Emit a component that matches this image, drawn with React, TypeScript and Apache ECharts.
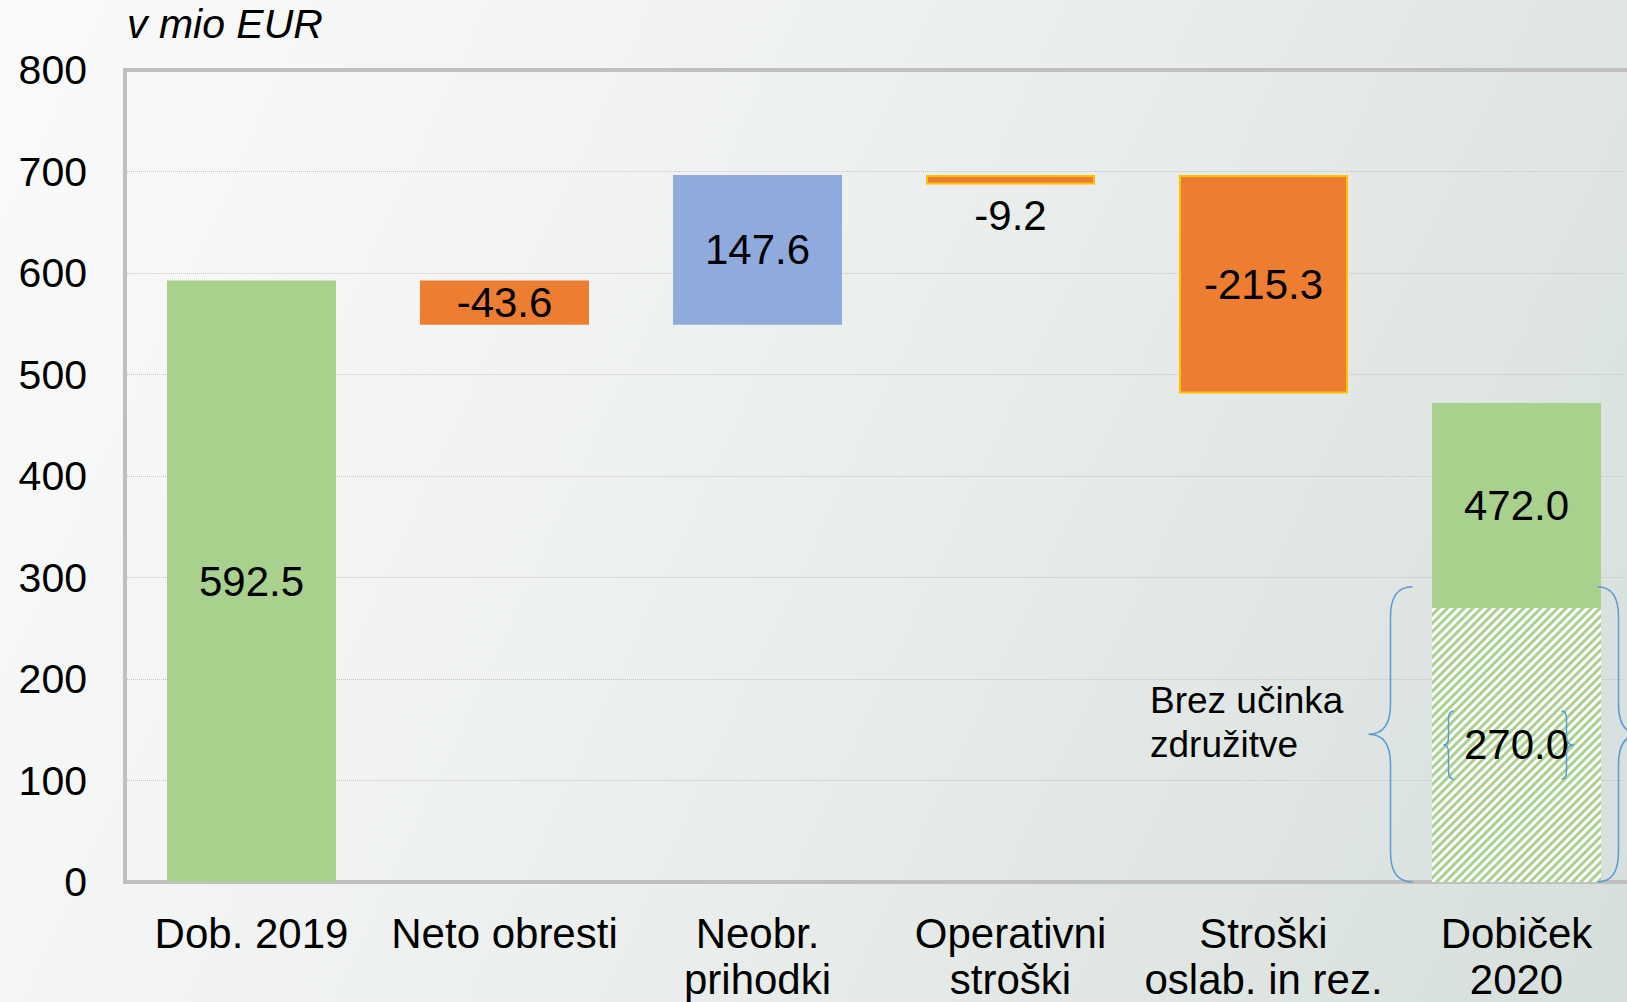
import React, { useEffect, useRef } from "react";
import * as echarts from "echarts";

const categories = [
  "Dob. 2019",
  "Neto obresti",
  "Neobr.\nprihodki",
  "Operativni\nstroški",
  "Stroški\noslab. in rez.",
  "Dobiček\n2020",
];
// change shown on each bar
const changes = [592.5, -43.6, 147.6, -9.2, -215.3, 472.0];
// level at the top edge of each bar, as drawn in the picture
const barTops = [592.5, 592.5, 696.5, 696.5, 696.5, 472.0];
const isTotal = [true, false, false, false, false, true];
const withoutMergerEffect = 270.0;
const yMin = 0;
const yMax = 800;
const yStep = 100;
const unitLabel = "v mio EUR";
const noteLabel = "Brez učinka\nzdružitve";

const outlined = [false, false, false, true, true, false];

const FONT = "'Liberation Sans', Arial, sans-serif";
const GREEN = "#a9d18e";
const ORANGE = "#ed7d31";
const BLUE = "#8faadc";
const BRACE = "#5b9bd5";

let braceRegistered = false;
function registerBrace() {
  if (braceRegistered) return;
  braceRegistered = true;
  const Brace = (echarts.graphic as any).extendShape({
    type: "brace",
    shape: { xv: 0, y1: 0, y2: 0, tip: 0, end: 0, r: 10 },
    buildPath(ctx: any, s: any) {
      const ym = (s.y1 + s.y2) / 2;
      ctx.moveTo(s.end, s.y1);
      ctx.quadraticCurveTo(s.xv, s.y1, s.xv, s.y1 + s.r);
      ctx.lineTo(s.xv, ym - s.r);
      ctx.quadraticCurveTo(s.xv, ym, s.tip, ym);
      ctx.moveTo(s.tip, ym);
      ctx.quadraticCurveTo(s.xv, ym, s.xv, ym + s.r);
      ctx.lineTo(s.xv, s.y2 - s.r);
      ctx.quadraticCurveTo(s.xv, s.y2, s.end, s.y2);
    },
  });
  (echarts.graphic as any).registerShape("brace", Brace);
}

function buildSeriesData() {
  const base: number[] = [];
  const hatched: number[] = [];
  const solid: number[] = [];
  const last = changes.length - 1;
  changes.forEach((c, i) => {
    const h = Math.abs(c);
    const b = +(barTops[i] - h).toFixed(1);
    if (i === last) {
      base.push(b);
      hatched.push(withoutMergerEffect);
      solid.push(+(h - withoutMergerEffect).toFixed(1));
    } else {
      base.push(b);
      hatched.push(0);
      solid.push(h);
    }
  });
  return { base, hatched, solid };
}

export default function App() {
  const ref = useRef<HTMLDivElement>(null);
  useEffect(() => {
    if (!ref.current) return;
    registerBrace();
    const chart = echarts.init(ref.current, null, { renderer: "svg" });
    const { base, hatched, solid } = buildSeriesData();
    const last = changes.length - 1;

    const solidData = solid.map((v, i) => {
      const color = isTotal[i] ? GREEN : changes[i] < 0 ? ORANGE : BLUE;
      const small = Math.abs(changes[i]) < 20;
      return {
        value: v,
        itemStyle: {
          color,
          borderColor: outlined[i] ? "#ffc000" : color,
          borderWidth: outlined[i] ? 2 : 0,
        },
        label: {
          show: true,
          position: small ? "bottom" : "inside",
          distance: 10,
          formatter: () => changes[i].toFixed(1),
        },
      };
    });

    const hatchedData = hatched.map((v, i) => {
      if (i !== last) return { value: v, itemStyle: { color: "transparent" }, label: { show: false } };
      return {
        value: v,
        itemStyle: {
          color: "#ffffff",
          decal: {
            symbol: "rect",
            symbolSize: 1,
            color: GREEN,
            backgroundColor: "#ffffff",
            dashArrayX: [1, 0],
            dashArrayY: [3, 2.5],
            rotation: -Math.PI / 4,
          },
        },
        label: {
          show: true,
          position: "inside",
          formatter: () => withoutMergerEffect.toFixed(1),
        },
      };
    });

    const labelStyle = { color: "#000", fontSize: 42, fontFamily: FONT };

    chart.setOption({
      animation: false,
      grid: {
        left: 125,
        top: 70,
        width: 1518,
        height: 813,
        show: true,
        borderColor: "#bfbfbf",
        borderWidth: 4,
        backgroundColor: "transparent",
      },
      xAxis: {
        type: "category",
        data: categories,
        axisLine: { show: false },
        axisTick: { show: false },
        axisLabel: {
          interval: 0,
          margin: 28,
          color: "#000",
          fontSize: 42,
          lineHeight: 46,
          fontFamily: FONT,
        },
      },
      yAxis: {
        type: "value",
        min: yMin,
        max: yMax,
        interval: yStep,
        axisLine: { show: false },
        axisTick: { show: false },
        axisLabel: { margin: 38, color: "#000", fontSize: 41, fontFamily: FONT },
        splitLine: { lineStyle: { color: "#c4c4c4", type: "dotted", width: 1 } },
      },
      series: [
        {
          name: "hatched",
          type: "bar",
          stack: "w",
          barWidth: "66.8%",
          data: hatchedData,
          label: labelStyle,
          silent: true,
        },
        {
          name: "base",
          type: "bar",
          stack: "w",
          data: base.map((v) => ({ value: v })),
          itemStyle: { color: "transparent" },
          silent: true,
        },
        {
          name: "delta",
          type: "bar",
          stack: "w",
          data: solidData,
          label: labelStyle,
        },
      ],
    });

    const cx = chart.convertToPixel({ xAxisIndex: 0 }, last) as number;
    const yTop = chart.convertToPixel({ yAxisIndex: 0 }, 291) as number;
    const yBot = chart.convertToPixel({ yAxisIndex: 0 }, 0) as number;
    const yLab = chart.convertToPixel({ yAxisIndex: 0 }, withoutMergerEffect / 2) as number;
    const braceStyle = { stroke: BRACE, fill: "none", lineWidth: 1.5 };

    chart.setOption({
      graphic: [
        {
          type: "text",
          left: 127,
          top: 3,
          style: {
            text: unitLabel,
            fontSize: 41,
            fontStyle: "italic",
            fontFamily: FONT,
            fill: "#000",
          },
        },
        {
          type: "text",
          x: 1150,
          y: 678,
          style: {
            text: noteLabel,
            fontSize: 37,
            lineHeight: 44,
            fontFamily: FONT,
            fill: "#000",
          },
        },
        {
          type: "brace",
          shape: { xv: cx - 126, tip: cx - 148, end: cx - 104, y1: yTop, y2: yBot, r: 30 },
          style: braceStyle,
          z: 100,
        },
        {
          type: "brace",
          shape: { xv: cx + 102, tip: cx + 124, end: cx + 81, y1: yTop, y2: yBot, r: 30 },
          style: braceStyle,
          z: 100,
        },
        {
          type: "brace",
          shape: { xv: cx - 68, tip: cx - 73, end: cx - 63, y1: yLab - 34, y2: yLab + 34, r: 8 },
          style: braceStyle,
          z: 100,
        },
        {
          type: "brace",
          shape: { xv: cx + 50, tip: cx + 57, end: cx + 45, y1: yLab - 34, y2: yLab + 34, r: 8 },
          style: braceStyle,
          z: 100,
        },
      ],
    });

    return () => chart.dispose();
  }, []);

  return (
    <div
      style={{
        position: "absolute",
        left: 0,
        top: 0,
        width: 1627,
        height: 1002,
        overflow: "hidden",
        background: "linear-gradient(115deg, #fafafa 0%, #f1f3f3 35%, #e3e8e6 70%, #d5dfdb 100%)",
      }}
    >
      <div ref={ref} style={{ width: 1660, height: 1002 }} />
    </div>
  );
}
